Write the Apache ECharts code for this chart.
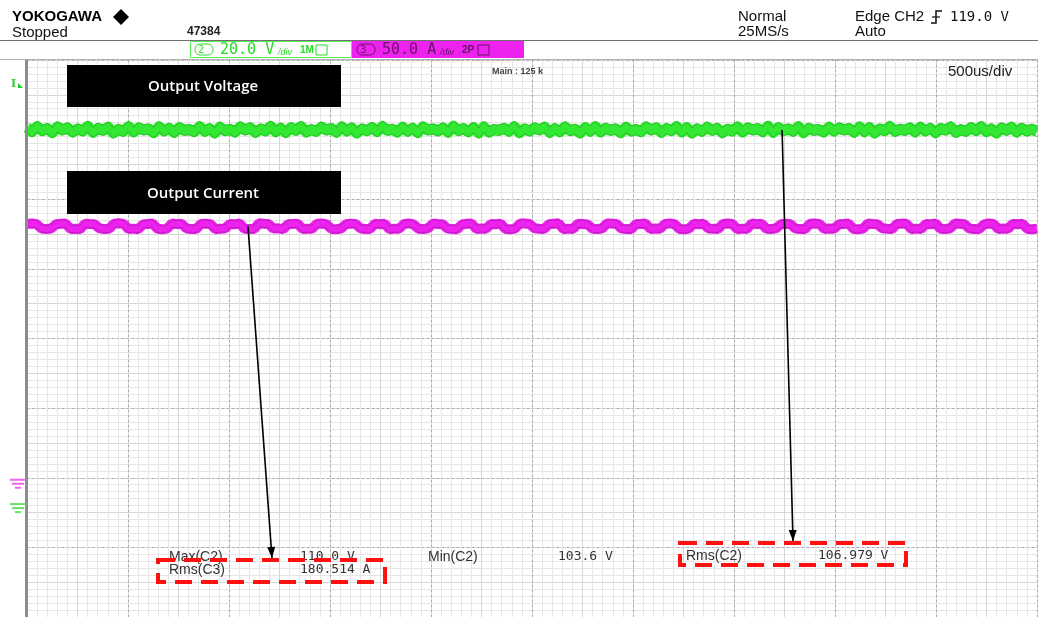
<!DOCTYPE html>
<html>
<head>
<meta charset="utf-8">
<script src="https://cdn.jsdelivr.net/npm/echarts@6/dist/echarts.min.js"></script>
<style>
  html, body { margin: 0; padding: 0; background: #fff; }
  #chart { width: 1038px; height: 617px; }
</style>
</head>
<body>
<div id="chart"></div>
<script>
// Acquisition: 10 divisions x 500 us
const timeSpanUs = 5000;

// CH2 output voltage samples (V)
const outputVoltage = [
  107.6,106.4,107.9,106.7,107.3,106.1,107.8,106.9,107.5,106.3,
  107.2,106.6,108.0,106.2,107.4,106.8,107.7,106.0,107.1,106.5,
  107.9,106.3,107.5,106.9,107.2,106.1,107.8,106.6,107.4,106.2,
  107.6,106.8,107.0,106.4,107.9,106.5,107.3,106.0,107.7,106.7,
  107.1,106.3,107.8,106.9,107.5,106.2,107.2,106.6,108.0,106.4,
  107.4,106.1,107.6,106.8,107.9,106.3,107.0,106.5,107.7,106.9,
  107.3,106.2,107.8,106.6,107.5,106.0,107.2,106.7,107.6,106.4,
  107.9,106.8,107.1,106.3,107.7,106.5,107.4,106.1,107.8,106.9,
  107.2,106.6,107.5,106.2,108.0,106.7,107.3,106.4,107.6,106.0,
  107.8,106.3,107.0,106.8,107.4,106.5,107.9,106.1,107.2,106.6,
  107.5,106.9,107.7,106.2,107.3,106.4,107.8,106.7,107.1,106.0,
  107.6,106.5,107.9,106.3,107.4,106.8,107.2,106.1,107.7,106.6,
  107.0,106.4,107.8,106.9,107.5,106.2,107.3,106.7,107.9,106.3,
  107.6,106.0,107.2,106.5,107.7,106.8,107.4,106.1,107.1,106.6,
  107.8,106.3,107.5,106.9,107.3,106.4,108.0,106.2,107.6,106.7,
  107.2,106.5,107.9,106.1,107.4,106.8,107.0,106.3,107.7,106.6,
  107.5,106.9,107.3,106.2,107.8,106.4,107.6,106.0,107.2,106.7,
  107.9,106.5,107.1,106.8,107.5,106.3,107.7,106.6,107.4,106.1,
  107.3,106.9,107.8,106.2,107.0,106.5,107.6,106.7,107.9,106.4,
  107.2,106.0,107.5,106.8,107.7,106.3,107.4,106.6,107.1,106.5
];

// CH3 output current samples (A)
const outputCurrent = [
  182.3,182.6,182.1,178.9,178.6,179.0, 182.0,182.4,182.5,178.7,178.8,178.4,
  182.5,182.2,182.0,179.1,178.7,178.8, 182.4,182.7,182.3,178.6,178.9,178.5,
  181.9,182.3,182.6,178.8,178.4,178.9, 182.6,182.1,182.4,179.0,178.7,178.6,
  182.2,182.5,182.0,178.5,178.9,179.0, 182.3,182.0,182.6,178.8,178.6,178.7,
  182.7,182.4,182.2,178.9,179.1,178.5, 182.1,182.3,182.5,178.6,178.8,178.9,
  182.4,182.6,181.9,178.7,178.5,179.0, 182.0,182.5,182.3,179.0,178.7,178.6,
  182.5,182.1,182.4,178.4,178.9,178.8, 182.2,182.7,182.0,178.8,178.6,179.1,
  182.6,182.3,182.1,178.9,178.7,178.5, 181.9,182.4,182.6,178.6,179.0,178.8,
  182.3,182.0,182.5,178.7,178.4,178.9, 182.5,182.6,182.2,179.1,178.8,178.6,
  182.1,182.4,182.7,178.5,178.9,178.7, 182.4,182.2,181.9,178.8,178.6,179.0,
  182.6,182.5,182.3,178.9,178.7,178.4, 182.0,182.3,182.6,178.6,179.0,178.8,
  182.2,182.7,182.1,178.7,178.5,178.9, 182.5,182.0,182.4,179.0,178.8,178.6,
  182.3,182.6,182.2,178.4,178.9,178.7, 182.7,182.1,182.5,178.8,178.6,179.1,
  182.1,182.4,182.0,178.9,178.7,178.5, 182.4,182.6,182.3,178.6,179.0,178.8,
  182.0,182.3,182.6,178.7,178.4,178.9, 182.6,182.2,182.1,179.1,178.8,178.6,
  182.3,182.5,182.4,178.5,178.9,178.7, 182.2,182.0,182.7,178.8,178.6,179.0,
  182.5,182.4,182.1,178.9,178.7,178.4, 181.9,182.6,182.3,178.6,179.0,178.8,
  182.4,182.1,182.5,178.7,178.5,178.9
];

// Vertical scales: 8 divisions, 20 V/div and 50 A/div
const voltageRange = [-33, 127];
const currentRange = [-100, 300];

// Automatic measurements
const measureNames = ['Max(C2)', 'Min(C2)', 'Rms(C2)', 'Rms(C3)'];
const measureValues = ['110.0 V', '103.6 V', '106.979 V', '180.514 A'];

// Trace captions
const traceTitles = ['Output Voltage', 'Output Current'];

const toPairs = (vals, shift) => vals.map((v, i) => [i * timeSpanUs / (vals.length - 1), v + (shift || 0)]);

const chart = echarts.init(document.getElementById('chart'), null, { renderer: 'canvas' });

const gridAxisBase = {
  type: 'value',
  axisLine: { show: false },
  axisTick: { show: false },
  axisLabel: { show: false }
};

// a trace is a bright thick band with darker speckled edges
const traceSeries = (name, yIdx, vals, color, width, edgeColor, edgeShift, join) => [
  {
    name, type: 'line', xAxisIndex: 0, yAxisIndex: yIdx, silent: true,
    showSymbol: false, data: toPairs(vals), lineStyle: { color, width, join }, z: 3
  },
  {
    name: name + ' upper edge', type: 'line', xAxisIndex: 0, yAxisIndex: yIdx, silent: true,
    showSymbol: false, data: toPairs(vals, edgeShift),
    lineStyle: { color: edgeColor, width: 0.8, opacity: 0.55 }, z: 4
  },
  {
    name: name + ' lower edge', type: 'line', xAxisIndex: 0, yAxisIndex: yIdx, silent: true,
    showSymbol: false, data: toPairs(vals, -edgeShift),
    lineStyle: { color: edgeColor, width: 0.8, opacity: 0.55 }, z: 4
  }
];

chart.setOption({
  animation: false,
  backgroundColor: '#ffffff',
  grid: { left: 27, right: 1, top: 60, bottom: -3, containLabel: false },
  xAxis: [
    { type: 'value', min: 0, max: timeSpanUs, show: false },
    // fine graticule
    Object.assign({}, gridAxisBase, {
      min: 0, max: 10, interval: 1, position: 'bottom',
      splitLine: { show: false },
      minorTick: { show: false, splitNumber: 10 },
      minorSplitLine: { show: true, lineStyle: { color: '#e6e6e6', width: 1 } }
    }),
    // half divisions
    Object.assign({}, gridAxisBase, {
      min: 0, max: 10, interval: 0.5, position: 'top',
      splitLine: { show: true, lineStyle: { color: '#d6d6d6', width: 1 } }
    }),
    // main divisions
    Object.assign({}, gridAxisBase, {
      min: 0, max: 10, interval: 1, position: 'bottom',
      splitLine: { show: true, lineStyle: { color: '#a8a8a8', width: 1, type: [2, 3] } }
    })
  ],
  yAxis: [
    { type: 'value', min: voltageRange[0], max: voltageRange[1], show: false },
    { type: 'value', min: currentRange[0], max: currentRange[1], show: false },
    Object.assign({}, gridAxisBase, {
      min: 0, max: 8, interval: 1, position: 'left',
      splitLine: { show: false },
      minorTick: { show: false, splitNumber: 10 },
      minorSplitLine: { show: true, lineStyle: { color: '#e6e6e6', width: 1 } }
    }),
    Object.assign({}, gridAxisBase, {
      min: 0, max: 8, interval: 0.5, position: 'right',
      splitLine: { show: true, lineStyle: { color: '#d6d6d6', width: 1 } }
    }),
    Object.assign({}, gridAxisBase, {
      min: 0, max: 8, interval: 1, position: 'left',
      splitLine: { show: true, lineStyle: { color: '#a8a8a8', width: 1, type: [2, 3] } }
    })
  ],
  series: [].concat(
    traceSeries('C2', 0, outputVoltage, '#33e833', 11, '#138c13', 1.5, 'round'),
    traceSeries('C3', 1, outputCurrent, '#ee22ee', 10, '#7a1a7a', 2.6, 'bevel')
  )
});

// ---------- annotations ----------
const px = (axis, idx, v) => chart.convertToPixel({ [axis]: idx }, v);

const els = [];
const txt = (x, y, s, style) => els.push({
  type: 'text', x, y, z: 50,
  style: Object.assign({ text: s, fill: '#111', font: '15px "Liberation Sans", Arial, sans-serif', textVerticalAlign: 'middle' }, style)
});
const line = (x1, y1, x2, y2, stroke, w, extra) => els.push({
  type: 'line', z: 40, shape: { x1, y1, x2, y2 },
  style: Object.assign({ stroke, lineWidth: w }, extra || {})
});

// header
txt(12, 17, 'YOKOGAWA', { font: 'bold 15px "Liberation Sans Narrow", "Liberation Sans", Arial, sans-serif', fill: '#000' });
els.push({ type: 'polygon', z: 50, shape: { points: [[121, 9], [129, 17], [121, 25], [113, 17]] }, style: { fill: '#000' } });
txt(12, 33, 'Stopped');
txt(187, 32, '47384', { font: 'bold 12px "Liberation Sans Narrow", "Liberation Sans", sans-serif', fill: '#222' });
txt(738, 17, 'Normal');
txt(738, 32, '25MS/s');
txt(855, 17, 'Edge CH2');
// falling-edge trigger glyph
els.push({ type: 'polyline', z: 50, shape: { points: [[931, 23], [936, 23], [936, 11], [942, 11]] }, style: { stroke: '#111', lineWidth: 1.5, fill: null } });
line(932, 17, 940, 17, '#111', 1.2);
txt(950, 17, '119.0 V', { font: '14px "DejaVu Sans Mono", monospace' });
txt(855, 32, 'Auto');
line(0, 40.5, 1038, 40.5, '#707070', 1);
line(0, 59.5, 1038, 59.5, '#b0b0b0', 1);

// channel setting tags
els.push({ type: 'rect', z: 45, shape: { x: 190.5, y: 41.5, width: 161, height: 16 }, style: { fill: '#fff', stroke: '#55ee55', lineWidth: 1 } });
els.push({ type: 'rect', z: 46, shape: { x: 195, y: 44, width: 18, height: 11, r: 5 }, style: { fill: null, stroke: '#33dd33', lineWidth: 1 } });
txt(198, 50, '2', { font: '10px "DejaVu Sans", sans-serif', fill: '#33dd33' });
txt(220, 50, '20.0 V', { font: '15px "DejaVu Sans Mono", monospace', fill: '#22dd22' });
txt(278, 52, '/div', { font: 'italic 9px "Liberation Sans", sans-serif', fill: '#22dd22' });
txt(300, 50, '1M', { font: 'bold 10px "Liberation Sans Narrow", sans-serif', fill: '#22dd22' });
els.push({ type: 'rect', z: 46, shape: { x: 316, y: 45, width: 11, height: 10 }, style: { fill: null, stroke: '#22dd22', lineWidth: 1 } });

els.push({ type: 'rect', z: 45, shape: { x: 352, y: 41, width: 172, height: 17 }, style: { fill: '#ee22ee' } });
els.push({ type: 'rect', z: 46, shape: { x: 357, y: 44, width: 18, height: 11, r: 5 }, style: { fill: null, stroke: '#6a126a', lineWidth: 1 } });
txt(360, 50, '3', { font: '10px "DejaVu Sans", sans-serif', fill: '#6a126a' });
txt(382, 50, '50.0 A', { font: '15px "DejaVu Sans Mono", monospace', fill: '#6a126a' });
txt(440, 52, '/div', { font: 'italic 9px "Liberation Sans", sans-serif', fill: '#6a126a' });
txt(462, 50, '2P', { font: 'bold 10px "Liberation Sans Narrow", sans-serif', fill: '#6a126a' });
els.push({ type: 'rect', z: 46, shape: { x: 478, y: 45, width: 11, height: 10 }, style: { fill: null, stroke: '#6a126a', lineWidth: 1 } });

// timebase
txt(492, 72, 'Main : 125 k', { font: 'bold 9px "Liberation Sans", sans-serif', fill: '#444' });
txt(948, 72, '500us/div', { font: '15px "Liberation Sans", Arial, sans-serif', fill: '#222' });

// graticule left edge
els.push({ type: 'rect', z: 30, shape: { x: 25, y: 60, width: 3, height: 560 }, style: { fill: '#8c8c8c' } });

// trigger marker
txt(11, 84, 'I', { font: 'bold 13px "Liberation Serif", serif', fill: '#22cc22' });
els.push({ type: 'polygon', z: 50, shape: { points: [[18, 83], [23, 88], [18, 88]] }, style: { fill: '#22cc22' } });

// ground reference markers at each channel's zero level
const groundMark = (y0, color) => {
  line(10, y0 + 2, 26, y0 + 2, color, 2);
  line(12, y0 + 6, 24, y0 + 6, color, 2);
  line(15, y0 + 10, 21, y0 + 10, color, 2);
};
groundMark(px('yAxisIndex', 1, 0), '#ee66ee');
groundMark(px('yAxisIndex', 0, 0), '#66e066');

// trace captions
const captionBoxes = [[67, 65, 274, 42], [67, 171, 274, 43]];
traceTitles.forEach((t, i) => {
  const b = captionBoxes[i];
  els.push({ type: 'rect', z: 60, shape: { x: b[0], y: b[1], width: b[2], height: b[3] }, style: { fill: '#000' } });
  els.push({
    type: 'text', z: 61, x: 203, y: b[1] + b[3] / 2 + 1,
    style: { text: t, fill: '#fff', font: '600 15px "Open Sans", sans-serif', textAlign: 'center', textVerticalAlign: 'middle' }
  });
});

// measurement readout
const mFont = '14px "Liberation Sans", Arial, sans-serif';
const vFont = '13px "DejaVu Sans Mono", monospace';
txt(169, 557, measureNames[0], { font: mFont, fill: '#333' });
txt(300, 557, measureValues[0], { font: vFont, fill: '#333' });
txt(428, 557, measureNames[1], { font: mFont, fill: '#333' });
txt(558, 557, measureValues[1], { font: vFont, fill: '#333' });
txt(686, 556, measureNames[2], { font: mFont, fill: '#333' });
txt(818, 556, measureValues[2], { font: vFont, fill: '#333' });
txt(169, 570, measureNames[3], { font: mFont, fill: '#333' });
txt(300, 570, measureValues[3], { font: vFont, fill: '#333' });

// highlight frames
const dashed = { lineDash: [17, 9], lineCap: 'butt' };
els.push({ type: 'rect', z: 55, shape: { x: 158, y: 560, width: 227, height: 22 }, style: Object.assign({ fill: null, stroke: '#ff1010', lineWidth: 4 }, dashed) });
els.push({ type: 'rect', z: 55, shape: { x: 680, y: 543, width: 226, height: 22 }, style: Object.assign({ fill: null, stroke: '#ff1010', lineWidth: 4 }, dashed) });

// pointer arrows from the traces to the readouts
const arrow = (x1, y1, x2, y2) => {
  line(x1, y1, x2, y2, '#000', 1.6);
  const a = Math.atan2(y2 - y1, x2 - x1), L = 11, W = 4;
  els.push({
    type: 'polygon', z: 56,
    shape: { points: [[x2, y2],
      [x2 - L * Math.cos(a) + W * Math.sin(a), y2 - L * Math.sin(a) - W * Math.cos(a)],
      [x2 - L * Math.cos(a) - W * Math.sin(a), y2 - L * Math.sin(a) + W * Math.cos(a)]] },
    style: { fill: '#000' }
  });
};
const iStart = chart.convertToPixel({ xAxisIndex: 0, yAxisIndex: 1 }, [1094, 180.5]);
const vStart = chart.convertToPixel({ xAxisIndex: 0, yAxisIndex: 0 }, [3738, 106.9]);
arrow(iStart[0], iStart[1], 272, 558);
arrow(vStart[0], vStart[1], 793, 541);

chart.setOption({ graphic: { elements: els } });
</script>
</body>
</html>
